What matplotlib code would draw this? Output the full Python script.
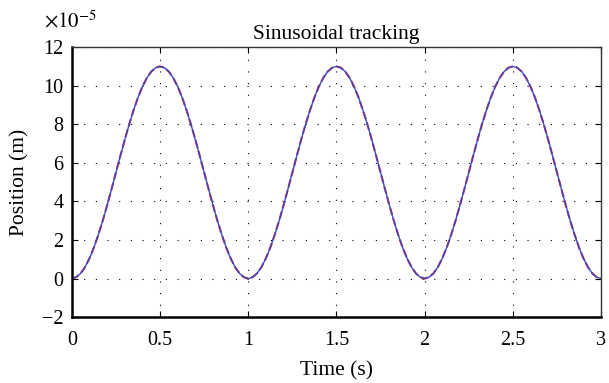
import matplotlib.pyplot as plt

plt.rcParams['font.family'] = ['Liberation Serif', 'DejaVu Serif']

# time samples (s), every 0.025 s over three periods
t = [i * 0.025 for i in range(121)]

# one period of the reference position (x1e-5 m)
period = [0.0, 0.07, 0.27, 0.60, 1.05, 1.61, 2.27, 3.00, 3.80, 4.64,
          5.50, 6.36, 7.20, 8.00, 8.73, 9.39, 9.95, 10.40, 10.73, 10.93,
          11.0, 10.93, 10.73, 10.40, 9.95, 9.39, 8.73, 8.00, 7.20, 6.36,
          5.50, 4.64, 3.80, 3.00, 2.27, 1.61, 1.05, 0.60, 0.27, 0.07]
reference = period * 3 + [0.0]
# measured stage position follows the reference closely
measured = list(reference)

xticks = [0, 0.5, 1, 1.5, 2, 2.5, 3]
xticklabels = ['0', '0.5', '1', '1.5', '2', '2.5', '3']
yticks = [-2, 0, 2, 4, 6, 8, 10, 12]
yticklabels = ['\u22122', '0', '2', '4', '6', '8', '10', '12']

fig = plt.figure(figsize=(6.09, 3.83), dpi=100)
ax = fig.add_axes([0.118, 0.172, 0.869, 0.705])

ax.plot(t, reference, color='#e0203a', linestyle='--', linewidth=1.5)
ax.plot(t, measured, color='#3050c0', linewidth=1.0)

ax.set_xlim(0, 3)
ax.set_ylim(-2, 12)
ax.set_xticks(xticks)
ax.set_xticklabels(xticklabels)
ax.set_yticks(yticks)
ax.set_yticklabels(yticklabels)
ax.tick_params(direction='in', top=True, right=True, labelsize=14.5,
               length=4, width=0.8)
ax.tick_params(axis='x', pad=10)
ax.tick_params(axis='y', pad=6)
ax.grid(True, color='black', linestyle=(0, (1, 9.5)), linewidth=0.8)

ax.spines['left'].set_linewidth(1.8)
ax.spines['bottom'].set_linewidth(1.8)
ax.spines['top'].set_linewidth(1.0)
ax.spines['right'].set_linewidth(1.0)
ax.spines['top'].set_color('#333333')
ax.spines['right'].set_color('#333333')

ax.set_title('Sinusoidal tracking', fontsize=15.5, pad=6)
ax.set_xlabel('Time (s)', fontsize=15.5, labelpad=8)
ax.set_ylabel('Position (m)', fontsize=15.5, labelpad=9)
fig.text(0.072, 0.945, r'$\times10^{-5}$', fontsize=15, va='center',
         math_fontfamily='stix')

fig.savefig('out.png', dpi=100)
